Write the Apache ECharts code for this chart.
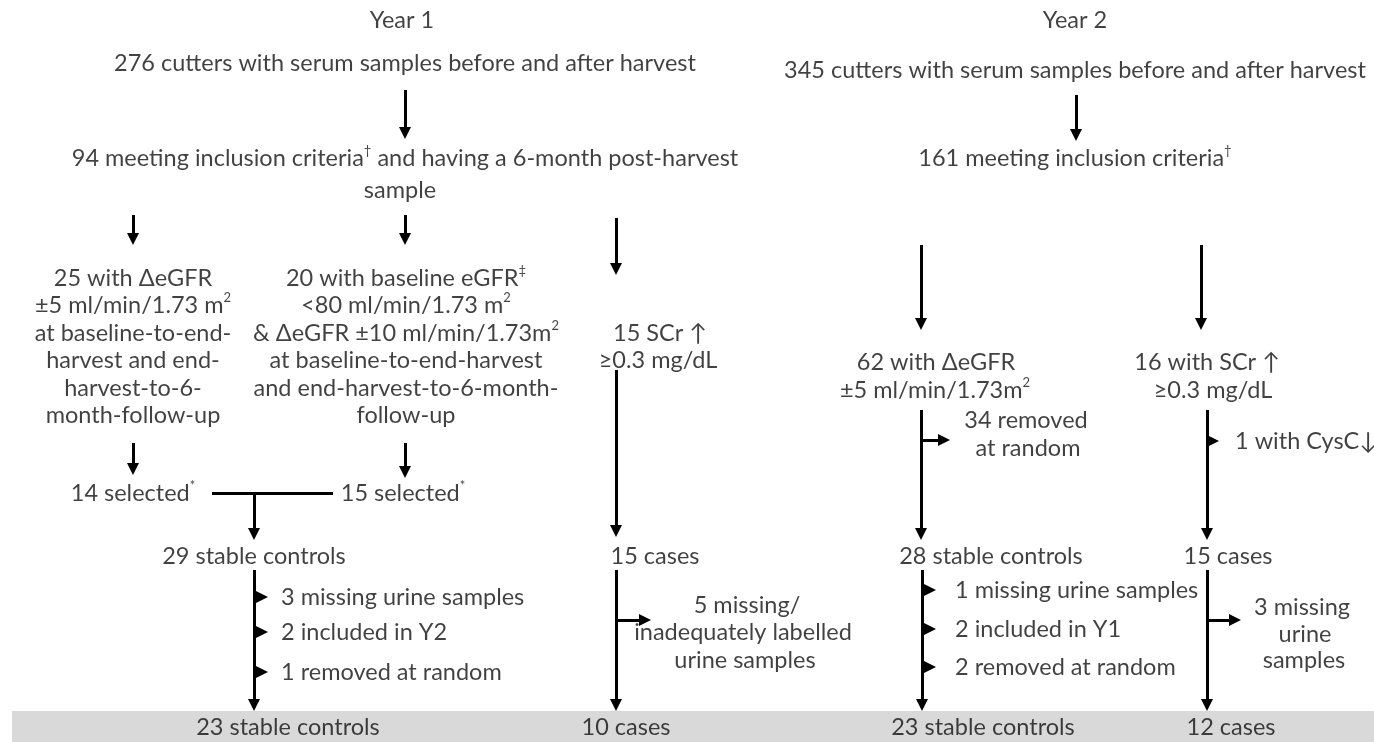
<!DOCTYPE html>
<html><head><meta charset="utf-8">
<script src="https://cdn.jsdelivr.net/npm/echarts@6/dist/echarts.min.js"></script>
<style>html,body{margin:0;padding:0;background:#fff}#c{width:1374px;height:742px}</style>
</head><body><div id="c"></div>
<script>
// ---- flow-diagram content ----
// centred labels: [x, y, text]   ({s|..} = superscript)
const centerLabels = [
  [402, 20, 'Year 1'],
  [405, 63, '276 cutters with serum samples before and after harvest'],
  [405, 158, '94 meeting inclusion criteria{s|†} and having a 6-month post-harvest'],
  [400, 190, 'sample'],
  [133, 278, '25 with ΔeGFR'],
  [133, 305, '±5 ml/min/1.73 m{s|2}'],
  [133, 333, 'at baseline-to-end-'],
  [133, 360, 'harvest and end-'],
  [133, 388, 'harvest-to-6-'],
  [133, 415, 'month-follow-up'],
  [406, 278, '20 with baseline eGFR{s|‡}'],
  [406, 305, '<80 ml/min/1.73 m{s|2}'],
  [406, 333, '& ΔeGFR ±10 ml/min/1.73m{s|2}'],
  [406, 360, 'at baseline-to-end-harvest'],
  [406, 388, 'and end-harvest-to-6-month-'],
  [406, 415, 'follow-up'],
  [660, 333, '15 SCr ↑'],
  [658, 360, '≥0.3 mg/dL'],
  [133, 493, '14 selected{s|*}'],
  [403, 493, '15 selected{s|*}'],
  [254, 556, '29 stable controls'],
  [655, 556, '15 cases'],
  [747, 605, '5 missing/'],
  [743, 632, 'inadequately labelled'],
  [745, 660, 'urine samples'],
  [1075, 20, 'Year 2'],
  [1075, 70, '345 cutters with serum samples before and after harvest'],
  [1075, 158, '161 meeting inclusion criteria{s|†}'],
  [936, 362, '62 with ΔeGFR'],
  [935, 390, '±5 ml/min/1.73m{s|2}'],
  [1207, 362, '16 with SCr ↑'],
  [1213, 390, '≥0.3 mg/dL'],
  [1026, 420, '34 removed'],
  [1028, 448, 'at random'],
  [991, 556, '28 stable controls'],
  [1228, 556, '15 cases'],
  [1302, 607, '3 missing'],
  [1305, 634, 'urine'],
  [1304, 660, 'samples'],
  [288, 727, '23 stable controls'],
  [626, 727, '10 cases'],
  [983, 727, '23 stable controls'],
  [1231, 727, '12 cases']
];
// left-aligned labels: [x, y, text]
const leftLabels = [
  [281, 597, '3 missing urine samples'],
  [281, 632, '2 included in Y2'],
  [281, 672, '1 removed at random'],
  [1235, 441, '1 with CysC↓'],
  [955, 590, '1 missing urine samples'],
  [955, 629, '2 included in Y1'],
  [955, 667, '2 removed at random']
];
// arrows: [x1, y1, xTip, yTip]
const arrows = [
  [405, 90, 405, 139], [1076, 95, 1076, 141],
  [133, 215, 133, 245], [405, 215, 405, 245], [616, 218, 616, 275],
  [921, 245, 921, 330], [1201, 245, 1201, 330],
  [133, 443, 133, 475], [405, 443, 405, 478],
  [254, 493, 254, 540], [616, 370, 616, 537],
  [921, 410, 921, 540], [1207, 410, 1207, 540],
  [921, 440, 950, 440], [1207, 441, 1219, 441],
  [254, 570, 254, 711], [254, 597, 268, 597], [254, 632, 268, 632], [254, 672, 268, 672],
  [616, 570, 616, 711], [616, 620, 651, 620],
  [922, 570, 922, 711], [922, 590, 936, 590], [922, 629, 936, 629], [922, 667, 936, 667],
  [1207, 570, 1207, 711], [1207, 620, 1241, 620]
];
// plain connector lines: [x1, y1, x2, y2]
const connectors = [
  [212, 493, 333, 493]
];
// summary band: [x1, y1, x2, y2]
const summaryBand = [12, 711, 1374, 742];

// ---- build chart ----
const FONT = 'Lato';
const FS = 23.5;
const HEAD = 12;
const arrowData = arrows.map(a => {
  const dx = a[2] - a[0], dy = a[3] - a[1], L = Math.hypot(dx, dy);
  return { coords: [[a[0], a[1]], [a[2] - dx / L * HEAD / 2, a[3] - dy / L * HEAD / 2]] };
});
const rich = {
  s: { fontFamily: FONT, fontSize: 13, color: '#111', verticalAlign: 'top', lineHeight: 12 }
};
const chart = echarts.init(document.getElementById('c'), null, { renderer: 'canvas' });
chart.setOption({
  animation: false,
  backgroundColor: '#fff',
  grid: { left: 0, right: 0, top: 0, bottom: 0 },
  xAxis: { type: 'value', min: 0, max: 1374, show: false },
  yAxis: { type: 'value', min: 0, max: 742, inverse: true, show: false },
  series: [
    {
      type: 'scatter', symbolSize: 0, z: 1, silent: true,
      data: [],
      markArea: {
        silent: true,
        itemStyle: { color: '#d9d9d9' },
        data: [[{ coord: [summaryBand[0], summaryBand[1]] }, { coord: [summaryBand[2], summaryBand[3]] }]]
      }
    },
    {
      type: 'lines', coordinateSystem: 'cartesian2d', z: 5, silent: true,
      symbol: ['none', 'triangle'], symbolSize: [11, HEAD],
      lineStyle: { color: '#000', width: 3, opacity: 1, curveness: 0 },
      itemStyle: { color: '#000' },
      data: arrowData
    },
    {
      type: 'lines', coordinateSystem: 'cartesian2d', z: 5, silent: true,
      symbol: ['none', 'none'],
      lineStyle: { color: '#000', width: 3, opacity: 1, curveness: 0 },
      data: connectors.map(c => ({ coords: [[c[0], c[1]], [c[2], c[3]]] }))
    },
    {
      type: 'scatter', symbolSize: 0, z: 10, silent: true,
      data: centerLabels,
      label: {
        show: true, position: 'inside', formatter: p => p.data[2],
        fontFamily: FONT, fontSize: FS, color: '#111', lineHeight: 28, rich: rich
      }
    },
    {
      type: 'scatter', symbolSize: 0, z: 10, silent: true,
      data: leftLabels,
      label: {
        show: true, position: 'right', distance: 0, formatter: p => p.data[2],
        fontFamily: FONT, fontSize: FS, color: '#111', lineHeight: 28, rich: rich
      }
    }
  ]
});
</script></body></html>
